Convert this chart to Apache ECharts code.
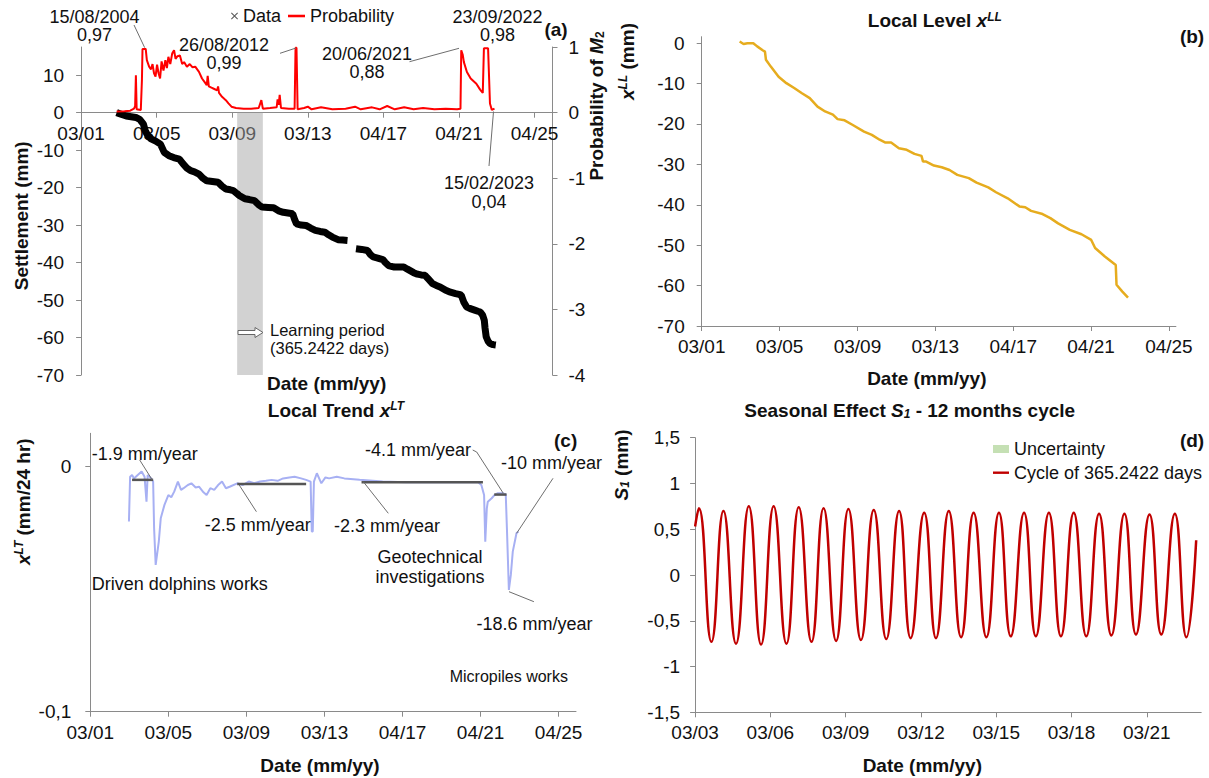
<!DOCTYPE html>
<html><head><meta charset="utf-8">
<script src="https://cdn.jsdelivr.net/npm/echarts@6/dist/echarts.min.js"></script>
<style>html,body{margin:0;padding:0;background:#fff}#c{width:1209px;height:778px}</style>
</head><body><div id="c"></div>
<script>
// ---------- tick labels ----------
const tickYearsA = [2001.2, 2005.2, 2009.2, 2013.2, 2017.2, 2021.2, 2025.2];
const tickLabelsA = ['03/01', '03/05', '03/09', '03/13', '04/17', '04/21', '04/25'];
const tickYearsD = [2003.2, 2006.2, 2009.2, 2012.2, 2015.2, 2018.2, 2021.2];
const tickLabelsD = ['03/03', '03/06', '03/09', '03/12', '03/15', '03/18', '03/21'];
const settleTicks = [-70, -60, -50, -40, -30, -20, -10, 0, 10];
const probTicks = [-4, -3, -2, -1, 0, 1];
const levelTicks = [-70, -60, -50, -40, -30, -20, -10, 0];
const trendTicks = [-0.1, 0];
const seasonTicks = [-1.5, -1, -0.5, 0, 0.5, 1, 1.5];

// ---------- (a) settlement data [year, mm] ----------
const settlementBeforeGap = [[2003.08,0],[2003.35,-0.5],[2003.59,-0.9],[2003.85,-1.1],[2004.1,-1.3],[2004.3,-1.8],[2004.5,-3.1],[2004.6,-4.9],[2004.75,-6.3],[2004.9,-7],[2005.15,-7.6],[2005.4,-8.4],[2005.6,-10.6],[2005.85,-11.5],[2006.1,-12],[2006.4,-12.4],[2006.6,-13.7],[2006.8,-14.8],[2007.0,-15.5],[2007.2,-15.8],[2007.44,-16.4],[2007.65,-17.5],[2007.85,-18.2],[2008.15,-18.4],[2008.45,-18.6],[2008.65,-19.6],[2008.86,-20.4],[2009.1,-20.6],[2009.26,-20.8],[2009.45,-21.6],[2009.57,-22.1],[2009.87,-23],[2010.1,-23.2],[2010.38,-23.5],[2010.6,-24.6],[2010.78,-25.2],[2011.1,-25.3],[2011.39,-25.4],[2011.65,-26.2],[2011.9,-26.6],[2012.15,-26.8],[2012.4,-27],[2012.5,-28.5],[2012.6,-29.7],[2012.85,-30],[2013.1,-30.1],[2013.35,-30.8],[2013.6,-31.4],[2013.85,-31.7],[2014.1,-31.9],[2014.3,-32.6],[2014.5,-33.2],[2014.8,-33.9],[2015.05,-34],[2015.3,-34.1]];
const settlementAfterGap = [[2015.75,-36.3],[2016.05,-36.5],[2016.36,-36.8],[2016.5,-37.8],[2016.66,-38.5],[2016.9,-38.8],[2017.17,-39.2],[2017.3,-40],[2017.47,-40.8],[2017.78,-41.2],[2018.05,-41.2],[2018.28,-41.2],[2018.45,-41.7],[2018.59,-42.1],[2018.8,-42.7],[2019.0,-43.1],[2019.2,-43.3],[2019.4,-43.4],[2019.6,-44.5],[2019.8,-45.6],[2020.0,-46.1],[2020.2,-46.5],[2020.5,-47.4],[2020.75,-47.9],[2021.02,-48.3],[2021.2,-48.5],[2021.32,-48.7],[2021.45,-50.5],[2021.6,-51.8],[2021.8,-52.3],[2022.03,-52.7],[2022.2,-53],[2022.33,-53.2],[2022.45,-54],[2022.54,-55.4],[2022.58,-57.5],[2022.64,-59.8],[2022.74,-61],[2022.84,-61.6],[2023.0,-61.9],[2023.15,-62]];
const learningPeriod = [2009.46, 2010.82];

// ---------- (a) probability of M2 [year, p] ----------
const probability = [[2003.08,0.015],[2003.5,0.02],[2003.8,0.03],[2004.0,0.06],[2004.06,0.1],[2004.1,0.57],[2004.14,0.05],[2004.36,0.04],[2004.42,0.5],[2004.45,0.97],[2004.62,0.97],[2004.68,0.8],[2004.8,0.7],[2004.9,0.66],[2004.98,0.74],[2005.06,0.6],[2005.14,0.55],[2005.22,0.73],[2005.3,0.6],[2005.38,0.52],[2005.46,0.78],[2005.56,0.64],[2005.66,0.8],[2005.74,0.68],[2005.82,0.85],[2005.92,0.74],[2006.02,0.9],[2006.12,0.95],[2006.2,0.82],[2006.3,0.86],[2006.43,0.87],[2006.55,0.74],[2006.65,0.77],[2006.8,0.7],[2006.95,0.74],[2007.1,0.69],[2007.24,0.7],[2007.44,0.62],[2007.6,0.52],[2007.75,0.46],[2007.85,0.42],[2007.9,0.56],[2007.96,0.4],[2008.1,0.38],[2008.25,0.36],[2008.4,0.34],[2008.45,0.4],[2008.5,0.3],[2008.66,0.24],[2008.86,0.19],[2009.0,0.14],[2009.16,0.09],[2009.4,0.07],[2009.8,0.06],[2010.2,0.06],[2010.6,0.07],[2010.74,0.19],[2010.82,0.06],[2011.2,0.07],[2011.55,0.08],[2011.6,0.2],[2011.66,0.12],[2011.71,0.27],[2011.78,0.07],[2012.2,0.06],[2012.5,0.06],[2012.55,0.99],[2012.6,0.99],[2012.66,0.05],[2013.0,0.07],[2013.2,0.09],[2013.4,0.05],[2013.9,0.08],[2014.5,0.05],[2015.2,0.06],[2015.7,0.09],[2016.0,0.05],[2016.6,0.08],[2017.0,0.05],[2017.4,0.1],[2017.8,0.05],[2018.3,0.08],[2018.8,0.05],[2019.3,0.07],[2019.9,0.05],[2020.5,0.06],[2021.1,0.05],[2021.28,0.06],[2021.32,0.95],[2021.4,0.88],[2021.46,0.77],[2021.62,0.62],[2021.82,0.52],[2022.12,0.44],[2022.32,0.35],[2022.46,0.3],[2022.52,0.98],[2022.74,0.98],[2022.84,0.14],[2022.94,0.04],[2023.08,0.06]];

// ---------- (b) local level [year, mm] ----------
const localLevel = [[2003.15,0.4],[2003.35,-0.2],[2003.55,0],[2003.85,0],[2004.05,-0.8],[2004.35,-1.8],[2004.45,-2.1],[2004.5,-4.1],[2004.75,-5.8],[2005.15,-8.3],[2005.55,-9.9],[2005.95,-11.1],[2006.35,-12.4],[2006.75,-13.6],[2007.15,-15.7],[2007.54,-16.9],[2007.94,-17.7],[2008.18,-18.8],[2008.54,-19.1],[2008.94,-20.2],[2009.54,-21.9],[2009.94,-22.7],[2010.34,-23.9],[2010.64,-24.6],[2010.93,-24.6],[2011.33,-26],[2011.73,-26.4],[2012.13,-27.4],[2012.49,-27.9],[2012.57,-29.3],[2012.73,-29.3],[2013.13,-30.3],[2013.53,-30.7],[2013.93,-31.4],[2014.33,-32.6],[2014.92,-33.4],[2015.32,-34.5],[2015.92,-35.7],[2016.32,-36.9],[2016.92,-38.4],[2017.52,-40.4],[2017.82,-40.6],[2018.12,-41.5],[2018.71,-42.3],[2019.11,-43.3],[2019.51,-44.6],[2020.11,-46.2],[2020.71,-47.3],[2021.21,-48.7],[2021.41,-50.7],[2021.91,-52.8],[2022.47,-54.9],[2022.51,-59.8],[2022.81,-61.5],[2023.1,-63]];

// ---------- (c) local trend [year, mm/24hr] ----------
const localTrend = [[2003.18,-0.0224],[2003.24,-0.0041],[2003.34,-0.0034],[2003.44,-0.0048],[2003.63,-0.0034],[2003.83,-0.002],[2003.98,-0.0041],[2004.08,-0.0143],[2004.14,-0.0034],[2004.32,-0.0048],[2004.42,-0.0061],[2004.47,-0.0252],[2004.55,-0.0401],[2004.71,-0.0306],[2004.81,-0.0211],[2005.0,-0.0156],[2005.2,-0.0116],[2005.35,-0.0125],[2005.5,-0.0102],[2005.69,-0.0061],[2005.85,-0.0095],[2005.98,-0.0088],[2006.2,-0.0075],[2006.38,-0.0068],[2006.6,-0.0085],[2006.77,-0.0082],[2007.0,-0.0105],[2007.16,-0.0116],[2007.35,-0.0088],[2007.55,-0.0095],[2007.75,-0.0075],[2007.95,-0.0061],[2008.15,-0.0088],[2008.34,-0.0082],[2008.73,-0.0068],[2009.0,-0.0075],[2009.32,-0.0061],[2009.6,-0.0068],[2009.9,-0.0061],[2010.2,-0.0058],[2010.49,-0.0054],[2010.8,-0.0058],[2011.08,-0.0048],[2011.4,-0.0044],[2011.67,-0.0041],[2012.0,-0.0048],[2012.26,-0.0054],[2012.49,-0.0061],[2012.55,-0.0265],[2012.6,-0.0265],[2012.66,-0.0061],[2012.81,-0.0027],[2013.04,-0.0068],[2013.25,-0.0044],[2013.44,-0.0048],[2013.83,-0.0041],[2014.22,-0.0048],[2015.0,-0.0054],[2016.18,-0.0061],[2017.36,-0.0064],[2018.53,-0.0064],[2019.71,-0.0064],[2021.08,-0.0064],[2021.24,-0.0075],[2021.38,-0.0116],[2021.44,-0.0306],[2021.52,-0.017],[2021.57,-0.0143],[2021.77,-0.0129],[2021.91,-0.0116],[2022.06,-0.0109],[2022.36,-0.0109],[2022.49,-0.0113],[2022.55,-0.0252],[2022.65,-0.0503],[2022.75,-0.0442],[2022.85,-0.0347],[2023.04,-0.0272],[2023.14,-0.0265]];
// trend segments: [startYear, endYear, value]
const trendSegments = [[2003.34, 2004.42, -0.0054], [2008.73, 2012.26, -0.0071], [2015.1, 2021.32, -0.0064], [2021.9, 2022.53, -0.0114]];

// ---------- (d) seasonal cycle ----------
const cycleStart = [2003.2, 0.53];
const cycleEnd = [2023.17, 0.38];
const cyclePeakYears = [2003.35,2004.33,2005.34,2006.33,2007.33,2008.32,2009.31,2010.32,2011.33,2012.33,2013.31,2014.3,2015.31,2016.31,2017.3,2018.29,2019.3,2020.31,2021.31,2022.32];
const cyclePeakVals = [0.73,0.70,0.75,0.75,0.74,0.73,0.72,0.71,0.70,0.68,0.70,0.68,0.68,0.68,0.68,0.68,0.67,0.67,0.66,0.67];
const cycleTroughYears = [2003.85,2004.83,2005.83,2006.84,2007.84,2008.82,2009.81,2010.82,2011.79,2012.8,2013.8,2014.81,2015.78,2016.78,2017.78,2018.79,2019.79,2020.77,2021.78,2022.78];
const cycleTroughVals = [-0.73,-0.75,-0.76,-0.75,-0.73,-0.72,-0.71,-0.70,-0.69,-0.69,-0.68,-0.68,-0.67,-0.67,-0.67,-0.67,-0.66,-0.65,-0.65,-0.68];

// ---------- build ----------
const FF = '"Liberation Sans", Arial, Helvetica, sans-serif';
const AX = '#8a8a8a';
const TICK_FS = 19;

const cycleData = [cycleStart];
for (let i = 0; i < cyclePeakYears.length; i++) {
  cycleData.push([cyclePeakYears[i], cyclePeakVals[i]]);
  cycleData.push([cycleTroughYears[i], cycleTroughVals[i]]);
}
cycleData.push(cycleEnd);

function lab(years, labels) {
  return function (v) {
    let best = 0, d = 1e9;
    years.forEach((y, i) => { if (Math.abs(y - v) < d) { d = Math.abs(y - v); best = i; } });
    return labels[best];
  };
}
const comma = v => String(Math.round(v * 10) / 10).replace('.', ',');

function xAx(grid, min, max, ticks, labels, offset) {
  return {
    type: 'value', gridIndex: grid, min: min, max: max, position: 'bottom', offset: offset || 0,
    axisLine: { onZero: false, lineStyle: { color: AX, width: 1 } },
    axisTick: { customValues: ticks, length: 5, lineStyle: { color: AX } },
    axisLabel: { customValues: ticks, formatter: lab(ticks, labels), color: '#111', fontSize: TICK_FS, fontFamily: FF, margin: 11 },
    splitLine: { show: false }
  };
}
function yAx(grid, min, max, ticks, fmt, margin, pos) {
  return {
    type: 'value', gridIndex: grid, min: min, max: max, position: pos || 'left',
    axisLine: { show: true, onZero: false, lineStyle: { color: AX, width: 1 } },
    axisTick: { show: true, customValues: ticks, length: 5, lineStyle: { color: AX } },
    axisLabel: { customValues: ticks, formatter: fmt, color: '#111', fontSize: TICK_FS, fontFamily: FF, margin: margin },
    splitLine: { show: false }
  };
}

const series = [
  { name: 'Data', type: 'line', xAxisIndex: 0, yAxisIndex: 0, symbol: 'none', z: 2,
    lineStyle: { color: '#000', width: 7 }, itemStyle: { color: '#000' },
    data: settlementBeforeGap.concat([[2015.5, '-']], settlementAfterGap) },
  { name: 'learning', type: 'line', xAxisIndex: 0, yAxisIndex: 0, data: [], z: 6, silent: true,
    markArea: { silent: true, itemStyle: { color: 'rgba(165,165,165,0.5)' },
      data: [[{ xAxis: learningPeriod[0], yAxis: 0 }, { xAxis: learningPeriod[1], yAxis: -70 }]] } },
  { name: 'Probability', type: 'line', xAxisIndex: 0, yAxisIndex: 1, symbol: 'none', z: 3,
    lineStyle: { color: '#ff0000', width: 2 }, itemStyle: { color: '#ff0000' }, data: probability },
  { name: 'Local level', type: 'line', xAxisIndex: 1, yAxisIndex: 2, symbol: 'none',
    lineStyle: { color: '#E6AC1E', width: 2.5 }, data: localLevel },
  { name: 'Local trend', type: 'line', xAxisIndex: 2, yAxisIndex: 3, symbol: 'none',
    lineStyle: { color: '#A7B0F3', width: 2 }, data: localTrend },
  { name: 'Uncertainty', type: 'line', xAxisIndex: 3, yAxisIndex: 4, symbol: 'none', data: [],
    itemStyle: { color: '#c5e0b4' }, lineStyle: { color: '#c5e0b4' } },
  { name: 'Cycle of 365.2422 days', type: 'line', xAxisIndex: 3, yAxisIndex: 4, symbol: 'none', smooth: true,
    lineStyle: { color: '#C00000', width: 2.5 }, itemStyle: { color: '#C00000' }, data: cycleData }
];
trendSegments.forEach((s, i) => series.push({
  name: 'trend' + i, type: 'line', xAxisIndex: 2, yAxisIndex: 3, symbol: 'none', z: 4,
  lineStyle: { color: '#555', width: 2.5 }, data: [[s[0], s[2]], [s[1], s[2]]]
}));

// ---------- text / annotation helpers ----------
function T(x, y, text, o) {
  o = o || {};
  const st = {
    text: text, fill: '#111', font: (o.bold ? 'bold ' : '') + (o.size || 18) + 'px ' + FF,
    align: o.align || 'center', textAlign: o.align || 'center',
    verticalAlign: 'middle', textVerticalAlign: 'middle'
  };
  if (o.lh) st.lineHeight = o.lh;
  if (o.rich) st.rich = o.rich;
  return { type: 'text', x: x, y: y, z: 50, silent: true, rotation: o.rot || 0, style: st };
}
function L(pts) {
  return { type: 'polyline', z: 50, silent: true, shape: { points: pts }, style: { stroke: '#6e6e6e', lineWidth: 1, fill: null } };
}
const B = { fontWeight: 'bold', fontSize: 19, fontFamily: FF, fill: '#111', color: '#111' };
const RICH = {
  b: B,
  bi: Object.assign({}, B, { fontStyle: 'italic' }),
  sup: Object.assign({}, B, { fontSize: 12, fontStyle: 'italic', verticalAlign: 'top', lineHeight: 12 }),
  sub: Object.assign({}, B, { fontSize: 12, fontStyle: 'italic', verticalAlign: 'bottom', lineHeight: 12 }),
  subn: Object.assign({}, B, { fontSize: 12, verticalAlign: 'bottom', lineHeight: 12 })
};
const RT = (x, y, s, rot) => T(x, y, s, { rich: RICH, rot: rot, lh: 20 });

const graphics = [
  // panel (a)
  T(94.5, 26, '15/08/2004\n0,97', { lh: 18 }), L([[134, 25], [144.7, 47.7]]),
  T(224, 54, '26/08/2012\n0,99', { lh: 18 }), L([[280, 53.3], [296, 48]]),
  T(367, 63, '20/06/2021\n0,88', { lh: 18 }), L([[409.5, 61.7], [459, 48.3]]),
  T(497.5, 26, '23/09/2022\n0,98', { lh: 18 }),
  T(489, 192.5, '15/02/2023\n0,04', { lh: 18.5 }), L([[493.5, 111.5], [489, 166]]),
  T(556, 29, '(a)', { bold: true, size: 19 }),
  { type: 'polygon', z: 50, silent: true, shape: { points: [[238, 330.5], [255, 330.5], [255, 327.5], [263, 332.5], [255, 337.5], [255, 334.5], [238, 334.5]] },
    style: { fill: '#fff', stroke: '#666', lineWidth: 1 } },
  T(270, 330, 'Learning period', { align: 'left', size: 16.5 }),
  T(270, 348.3, '(365.2422 days)', { align: 'left', size: 16.5 }),
  T(21.8, 215.8, 'Settlement (mm)', { bold: true, size: 19, rot: Math.PI / 2 }),
  RT(596, 106, '{b|Probability of }{bi|M}{subn|2}', Math.PI / 2),
  T(326.6, 383.3, 'Date (mm/yy)', { bold: true, size: 19 }),
  // panel (b)
  RT(934.8, 20.7, '{b|Local Level }{bi|x}{sup|LL}'),
  T(1192, 36.7, '(b)', { bold: true, size: 19 }),
  RT(627, 61.5, '{bi|x}{sup|LL}{b| (mm)}', Math.PI / 2),
  T(926.8, 378.3, 'Date (mm/yy)', { bold: true, size: 19 }),
  // panel (c)
  RT(335.9, 410, '{b|Local Trend }{bi|x}{sup|LT}'),
  T(565.6, 440, '(c)', { bold: true, size: 19 }),
  RT(23, 501.7, '{bi|x}{sup|LT}{b| (mm/24 hr)}', Math.PI / 2),
  T(320, 765, 'Date (mm/yy)', { bold: true, size: 19 }),
  T(91.8, 454.3, '-1.9 mm/year', { align: 'left' }), L([[139.7, 460], [152.3, 480]]),
  T(204.7, 525, '-2.5 mm/year', { align: 'left' }), L([[256.4, 511.7], [239.2, 485]]),
  T(334, 526, '-2.3 mm/year', { align: 'left' }), L([[388.3, 513.3], [363.3, 481.7]]),
  T(365, 450, '-4.1 mm/year', { align: 'left' }), L([[472.7, 450], [476.7, 452], [503.3, 493.3]]),
  T(501, 463.3, '-10 mm/year', { align: 'left' }), L([[553, 478.3], [516.6, 533.3]]),
  T(476.5, 624.3, '-18.6 mm/year', { align: 'left' }), L([[509, 591.7], [533.9, 601.7]]),
  T(91.8, 584, 'Driven dolphins works', { align: 'left' }),
  T(430, 566.7, 'Geotechnical\ninvestigations', { lh: 20 }),
  T(449.7, 676, 'Micropiles works', { align: 'left', size: 16 }),
  // panel (d)
  RT(909.7, 410, '{b|Seasonal Effect }{bi|S}{sub|1}{b| - 12 months cycle}'),
  T(1192, 440, '(d)', { bold: true, size: 19 }),
  RT(621.4, 465, '{bi|S}{sub|1}{b| (mm)}', Math.PI / 2),
  T(922.3, 765, 'Date (mm/yy)', { bold: true, size: 19 })
];

const crossIcon = 'path://M1,0L5,4L9,0L10,1L6,5L10,9L9,10L5,6L1,10L0,9L4,5L0,1Z';
const lineIcon = 'path://M0,0L20,0L20,3L0,3Z';
const legTxt = { fontSize: 18, fontFamily: FF, color: '#111', lineHeight: 20 };

const option = {
  backgroundColor: '#fff',
  animation: false,
  textStyle: { fontFamily: FF },
  grid: [
    { left: 81.1, top: 47, width: 471.4, height: 328, outerBoundsMode: 'none', containLabel: false },
    { left: 701.7, top: 36.7, width: 474.2, height: 289.3, outerBoundsMode: 'none', containLabel: false },
    { left: 90.3, top: 433.3, width: 485.7, height: 278.4, outerBoundsMode: 'none', containLabel: false },
    { left: 695.1, top: 437.7, width: 506.1, height: 274.6, outerBoundsMode: 'none', containLabel: false }
  ],
  xAxis: [
    xAx(0, 2001.2, 2026.15, tickYearsA, tickLabelsA, -262.3),
    xAx(1, 2001.2, 2025.56, tickYearsA, tickLabelsA, 0),
    xAx(2, 2001.2, 2026.09, tickYearsA, tickLabelsA, 0),
    xAx(3, 2003.2, 2023.37, tickYearsD, tickLabelsD, 0)
  ],
  yAxis: [
    yAx(0, -70, 17.5, settleTicks, v => String(Math.round(v)), 17),
    yAx(0, -4, 1, probTicks, v => String(Math.round(v)), 16, 'right'),
    yAx(1, -70, 1.6, levelTicks, v => String(Math.round(v)), 17),
    yAx(2, -0.1, 0.0136, trendTicks, v => (Math.abs(v) < 1e-9 ? '0' : '-0,1'), 19),
    yAx(3, -1.5, 1.5, seasonTicks, comma, 15)
  ],
  legend: [
    { data: [{ name: 'Data', icon: crossIcon, itemStyle: { color: '#555' } }], left: 231, top: 6, padding: 0,
      itemWidth: 7, itemHeight: 7, selectedMode: false, textStyle: legTxt },
    { data: [{ name: 'Probability', icon: lineIcon, itemStyle: { color: '#ff0000' } }], left: 288, top: 6, padding: 0,
      itemWidth: 17, itemHeight: 3, selectedMode: false, textStyle: legTxt },
    { data: [{ name: 'Uncertainty', icon: 'rect', itemStyle: { color: '#c5e0b4' } },
             { name: 'Cycle of 365.2422 days', icon: lineIcon, itemStyle: { color: '#C00000' } }],
      orient: 'vertical', left: 993, top: 439, padding: 0, itemWidth: 16, itemHeight: 8, itemGap: 3.7, selectedMode: false,
      textStyle: legTxt }
  ],
  series: series,
  graphic: { elements: graphics }
};

const chart = echarts.init(document.getElementById('c'), null, { renderer: 'svg' });
chart.setOption(option);
</script>
</body></html>
